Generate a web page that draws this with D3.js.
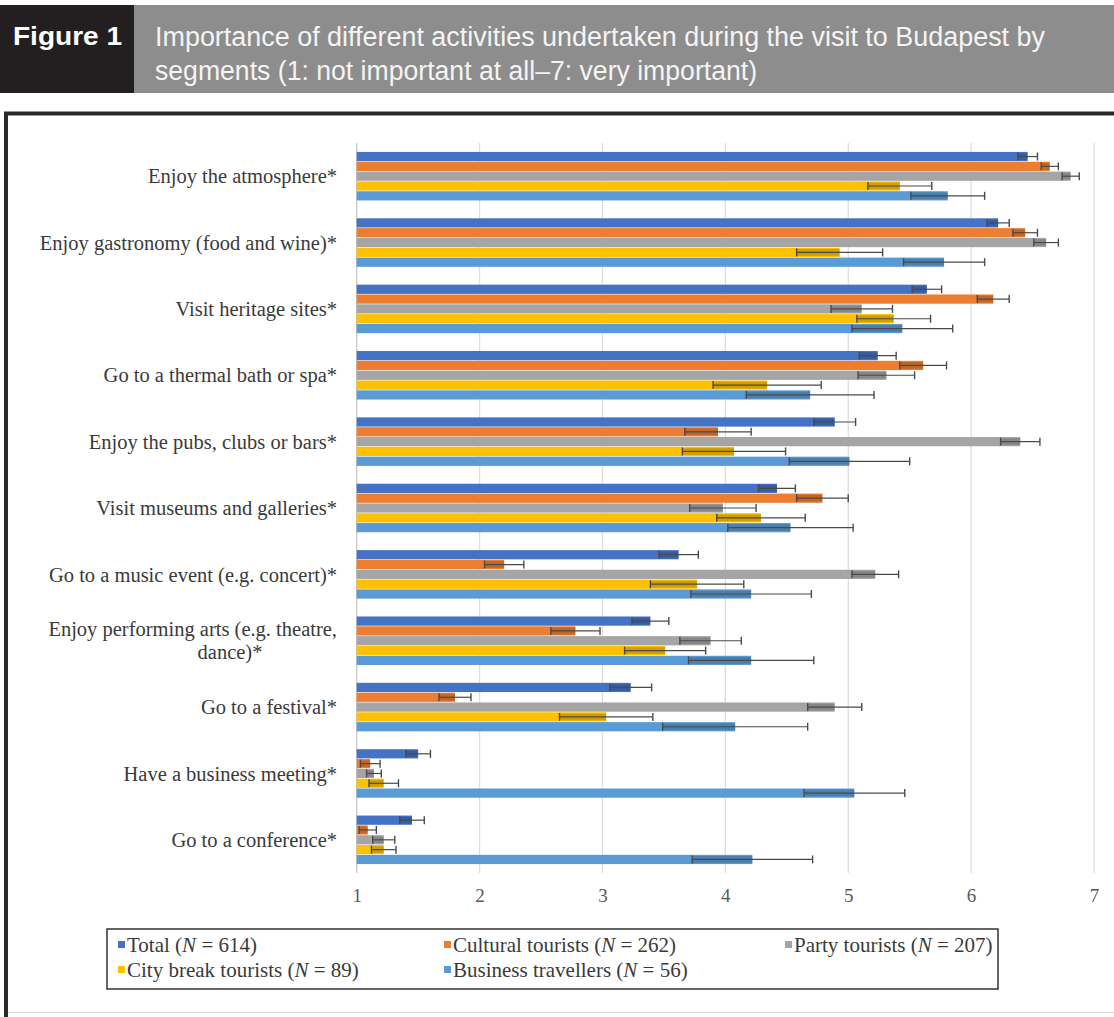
<!DOCTYPE html>
<html>
<head>
<meta charset="utf-8">
<script src="https://cdn.jsdelivr.net/npm/d3@7"></script>
<style>
html,body{margin:0;padding:0;background:#fff;}
svg{display:block;}
</style>
</head>
<body>
<svg id="chart" width="1114" height="1017"></svg>
<script>
const categories = [
  "Enjoy the atmosphere*",
  "Enjoy gastronomy (food and wine)*",
  "Visit heritage sites*",
  "Go to a thermal bath or spa*",
  "Enjoy the pubs, clubs or bars*",
  "Visit museums and galleries*",
  "Go to a music event (e.g. concert)*",
  "Enjoy performing arts (e.g. theatre,|dance)*",
  "Go to a festival*",
  "Have a business meeting*",
  "Go to a conference*"
];
const seriesNames = ["Total", "Cultural tourists", "Party tourists", "City break tourists", "Business travellers"];
const seriesN = [614, 262, 207, 89, 56];
const total       = [6.46, 6.22, 5.64, 5.24, 4.89, 4.42, 3.62, 3.39, 3.23, 1.50, 1.45];
const totalErr    = [0.08, 0.09, 0.12, 0.15, 0.17, 0.15, 0.16, 0.15, 0.17, 0.10, 0.10];
const cultural    = [6.64, 6.44, 6.18, 5.61, 3.94, 4.79, 2.20, 2.78, 1.80, 1.11, 1.09];
const culturalErr = [0.07, 0.10, 0.13, 0.19, 0.27, 0.21, 0.16, 0.20, 0.13, 0.08, 0.07];
const party       = [6.81, 6.61, 5.11, 5.31, 6.40, 3.98, 5.22, 3.88, 4.89, 1.14, 1.22];
const partyErr    = [0.07, 0.10, 0.25, 0.23, 0.16, 0.27, 0.19, 0.25, 0.22, 0.06, 0.09];
const city        = [5.42, 4.93, 5.37, 4.34, 4.07, 4.29, 3.77, 3.51, 3.03, 1.22, 1.22];
const cityErr     = [0.26, 0.35, 0.30, 0.44, 0.42, 0.36, 0.38, 0.33, 0.38, 0.12, 0.10];
const business    = [5.81, 5.78, 5.44, 4.69, 5.01, 4.53, 4.21, 4.21, 4.08, 5.05, 4.22];
const businessErr = [0.30, 0.33, 0.41, 0.52, 0.49, 0.51, 0.49, 0.51, 0.59, 0.41, 0.49];
const xTicks = [1, 2, 3, 4, 5, 6, 7];
const colors = ["#4472C4", "#ED7D31", "#A5A5A5", "#FFC000", "#5B9BD5"];

const seriesValues = [total, cultural, party, city, business];
const seriesErrs = [totalErr, culturalErr, partyErr, cityErr, businessErr];

const svg = d3.select("#chart");
const serif = "Liberation Serif, 'Times New Roman', serif";

// Header
svg.append("rect").attr("x", 0).attr("y", 5).attr("width", 1114).attr("height", 88).attr("fill", "#8d8d8d");
svg.append("rect").attr("x", 0).attr("y", 5).attr("width", 134).attr("height", 88).attr("fill", "#231f20");
svg.append("text").attr("x", 13).attr("y", 45)
  .attr("font-family", "Liberation Sans, Arial, sans-serif").attr("font-weight", "bold")
  .attr("font-size", 26).attr("fill", "#ffffff")
  .attr("textLength", 109).attr("lengthAdjust", "spacingAndGlyphs")
  .text("Figure 1");
svg.append("text").attr("x", 155).attr("y", 46)
  .attr("font-family", "Liberation Sans, Arial, sans-serif")
  .attr("font-size", 27).attr("fill", "#f4f4f4")
  .attr("textLength", 890).attr("lengthAdjust", "spacingAndGlyphs")
  .text("Importance of different activities undertaken during the visit to Budapest by");
svg.append("text").attr("x", 155).attr("y", 80)
  .attr("font-family", "Liberation Sans, Arial, sans-serif")
  .attr("font-size", 27).attr("fill", "#f4f4f4")
  .attr("textLength", 602).attr("lengthAdjust", "spacingAndGlyphs")
  .text("segments (1: not important at all\u20137: very important)");

// Frame
svg.append("rect").attr("x", 6).attr("y", 113.5).attr("width", 1120).attr("height", 899)
  .attr("fill", "none").attr("stroke", "#d8d8d8").attr("stroke-width", 1);
svg.append("line").attr("x1", 4).attr("x2", 1114).attr("y1", 113.5).attr("y2", 113.5)
  .attr("stroke", "#2a2a2a").attr("stroke-width", 4);
svg.append("line").attr("x1", 6).attr("x2", 6).attr("y1", 112).attr("y2", 1017)
  .attr("stroke", "#2a2a2a").attr("stroke-width", 4);

// Scales
const x = d3.scaleLinear().domain([1, 7]).range([356.7, 1094]);
const y = d3.scaleBand().domain(categories).range([143, 873]).paddingInner(0.26).paddingOuter(0.13);
const ySub = d3.scaleBand().domain(d3.range(5)).range([0, y.bandwidth()]);

// Gridlines
const grid = svg.append("g");
grid.selectAll("line").data(xTicks).join("line")
  .attr("x1", d => x(d)).attr("x2", d => x(d))
  .attr("y1", 143).attr("y2", 873)
  .attr("stroke", d => d === 1 ? "#c8c8c8" : "#dedede").attr("stroke-width", 1.3);

// Axis
const xAxis = d3.axisBottom(x).tickValues(xTicks).tickSize(0).tickFormat(d3.format("d"));
const ax = svg.append("g").attr("transform", "translate(0,873)").call(xAxis);
ax.select(".domain").remove();
ax.selectAll("text").attr("font-family", serif).attr("font-size", 19)
  .attr("fill", "#595959").attr("dy", "1.35em");

// Bars
const gGroups = svg.append("g").selectAll("g").data(categories).join("g")
  .attr("transform", d => `translate(0,${y(d)})`);

gGroups.each(function(cat, ci) {
  const g = d3.select(this);
  seriesValues.forEach((vals, si) => {
    const v = vals[ci], e = seriesErrs[si][ci];
    const by = ySub(si), bh = ySub.bandwidth();
    g.append("rect").attr("x", x(1)).attr("y", by + 0.3).attr("width", x(v) - x(1)).attr("height", bh - 0.6)
      .attr("fill", colors[si]);
    g.append("rect").attr("x", x(v - e)).attr("y", by + bh * 0.15).attr("width", x(v) - x(v - e)).attr("height", bh * 0.7)
      .attr("fill", "#000").attr("opacity", 0.18);
    const cy = by + bh / 2;
    g.append("line").attr("x1", x(v - e)).attr("x2", x(v + e)).attr("y1", cy).attr("y2", cy)
      .attr("stroke", "#4a4a4a").attr("stroke-width", 1.2);
    [v - e, v + e].forEach(p => {
      g.append("line").attr("x1", x(p)).attr("x2", x(p)).attr("y1", cy - 4).attr("y2", cy + 4)
        .attr("stroke", "#4a4a4a").attr("stroke-width", 1.4);
    });
  });
});

// Category labels
const labels = svg.append("g");
categories.forEach(cat => {
  const cy = y(cat) + y.bandwidth() / 2;
  const parts = cat.split("|");
  const lbl = (tx, ty, anchor, s) => labels.append("text").attr("x", tx).attr("y", ty).attr("dy", "0.35em")
      .attr("text-anchor", anchor).attr("font-family", serif).attr("font-size", 20.5)
      .attr("fill", "#3a3a3a").text(s);
  if (parts.length === 1) {
    lbl(337, cy, "end", cat);
  } else {
    lbl(337, cy - 12, "end", parts[0]);
    lbl(230, cy + 11, "middle", parts[1]);
  }
});

// Legend
svg.append("rect").attr("x", 107).attr("y", 929).attr("width", 891).attr("height", 60)
  .attr("fill", "#fff").attr("stroke", "#333").attr("stroke-width", 1.5);
const legendPos = [[118, 945], [444, 945], [785, 945], [118, 970], [444, 970]];
seriesNames.forEach((name, i) => {
  const [lx, ly] = legendPos[i];
  svg.append("rect").attr("x", lx).attr("y", ly - 4).attr("width", 7).attr("height", 7).attr("fill", colors[i]);
  const t = svg.append("text").attr("x", lx + 9).attr("y", ly).attr("dy", "0.35em")
    .attr("font-family", serif).attr("font-size", 21).attr("fill", "#3a3a3a");
  t.append("tspan").text(name + " (");
  t.append("tspan").attr("font-style", "italic").text("N");
  t.append("tspan").text(" = " + seriesN[i] + ")");
});
</script>
</body>
</html>
